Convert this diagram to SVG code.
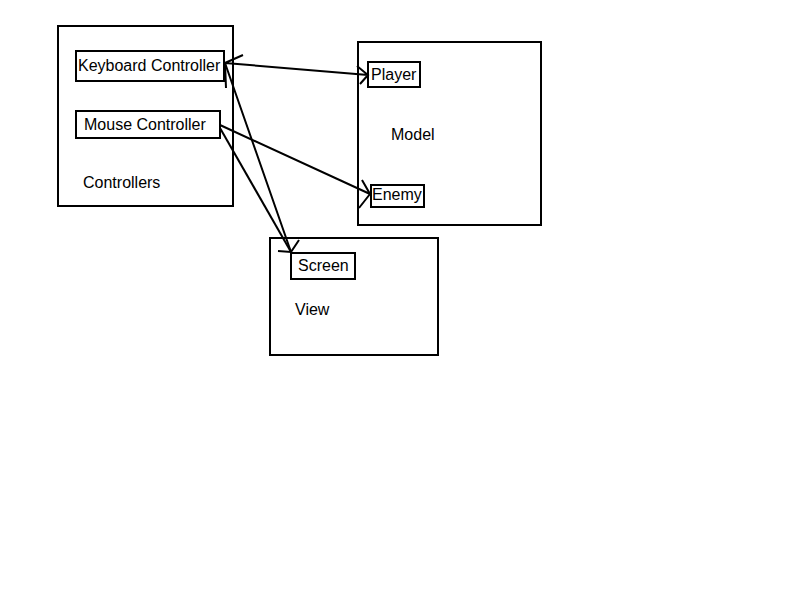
<svg xmlns="http://www.w3.org/2000/svg" width="800" height="600" viewBox="0 0 800 600">
<style>
rect{fill:none;stroke:#000;stroke-width:2}
text{font-family:"Liberation Sans",Arial,sans-serif;font-size:16px;fill:#000}
.c{fill:none;stroke:#000;stroke-width:2}
</style>
<rect x="0" y="0" width="800" height="600" style="fill:#fff;stroke:none"/>
<g id="controllers"><rect x="58" y="26" width="175" height="180"/><text x="83" y="188">Controllers</text></g>
<g id="keyboard"><rect x="76" y="51" width="148" height="30"/><text x="78" y="71">Keyboard Controller</text></g>
<g id="mouse"><rect x="76" y="111" width="144" height="27"/><text x="84" y="130">Mouse Controller</text></g>
<g id="model"><rect x="358" y="42" width="183" height="183"/><text x="391" y="140">Model</text></g>
<g id="player"><rect x="368" y="62" width="52" height="25"/><text x="371" y="80">Player</text></g>
<g id="enemy"><rect x="371" y="185" width="53" height="22"/><text x="372" y="200">Enemy</text></g>
<g id="view"><rect x="270" y="238" width="168" height="117"/><text x="295" y="315">View</text></g>
<g id="screen"><rect x="291" y="253" width="64" height="26"/><text x="298" y="271">Screen</text></g>
<g id="connectors">
<path class="c" d="M225,63 L368,75 M243,55 L225,63 L226,88 M357,66 L368,75 L360,84"/>
<path class="c" d="M225,63 L291,252 M278,251 L291,252 L299,240"/>
<path class="c" d="M220,125 L370,194 M362,180 L370,194 L359,208"/>
<path class="c" d="M220,128 L291,252"/>
</g>
</svg>
